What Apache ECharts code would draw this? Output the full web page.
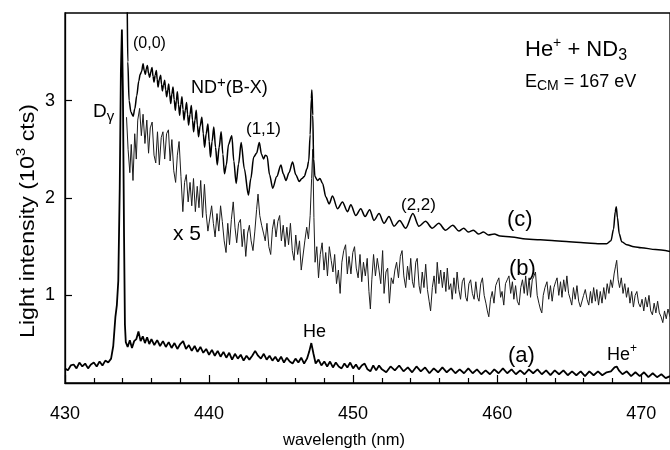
<!DOCTYPE html>
<html><head><meta charset="utf-8">
<script src="https://cdn.jsdelivr.net/npm/echarts@6/dist/echarts.min.js"></script>
<style>html,body{margin:0;padding:0;background:#fff}#c{width:670px;height:450px}</style>
</head><body><div id="c"></div>
<script>
// ---- data (wavelength in nm, intensity in 10^3 cts) ----
const waveA = [
430.0,430.2,430.4,430.6,430.8,431.0,431.2,431.4,431.6,431.8,
432.0,432.2,432.4,432.6,432.8,433.0,433.2,433.35,433.5,433.6,
433.7,433.8,433.88,433.95,434.02,434.1,434.16,434.22,434.35,434.5,
434.65,434.8,434.95,435.1,435.25,435.4,435.55,435.7,435.85,436.0,
436.2,436.4,436.6,436.8,437.0,437.2,437.4,437.6,437.8,438.0,
438.2,438.4,438.6,438.8,439.0,439.2,439.4,439.6,439.8,440.0,
440.2,440.4,440.6,440.8,441.0,441.2,441.4,441.6,441.8,442.0,
442.2,442.4,442.6,442.8,443.0,443.2,443.4,443.6,443.8,444.0,
444.2,444.4,444.6,444.8,445.0,445.2,445.4,445.6,445.8,446.0,
446.2,446.4,446.6,446.8,446.95,447.1,447.25,447.4,447.6,447.8,
448.0,448.2,448.4,448.6,448.8,449.0,449.2,449.4,449.6,449.8,
450.0,450.2,450.4,450.6,450.8,451.0,451.2,451.4,451.6,451.8,
452.0,452.3,452.6,452.9,453.2,453.5,453.8,454.1,454.4,454.7,
455.0,455.3,455.6,455.9,456.2,456.5,456.8,457.1,457.4,457.7,
458.0,458.3,458.6,458.9,459.2,459.5,459.8,460.1,460.4,460.7,
461.0,461.3,461.6,461.9,462.2,462.5,462.8,463.1,463.4,463.7,
464.0,464.3,464.6,464.9,465.2,465.5,465.8,466.1,466.4,466.7,
467.0,467.3,467.6,467.9,468.15,468.3,468.45,468.7,469.0,469.3,
469.6,469.9,470.2,470.5,470.8,471.1,471.4,471.7,472.0];
const intensityA = [
0.25,0.23,0.28,0.29,0.25,0.31,0.27,0.30,0.25,0.29,
0.31,0.27,0.32,0.28,0.33,0.31,0.35,0.48,0.78,0.90,
1.15,2.10,3.30,3.73,3.10,1.60,0.70,0.52,0.47,0.54,
0.46,0.53,0.55,0.63,0.53,0.58,0.51,0.57,0.50,0.55,
0.49,0.54,0.48,0.53,0.47,0.52,0.46,0.51,0.45,0.50,
0.53,0.45,0.49,0.43,0.48,0.42,0.47,0.41,0.45,0.39,
0.44,0.38,0.43,0.37,0.42,0.36,0.41,0.34,0.40,0.35,
0.39,0.33,0.38,0.34,0.38,0.43,0.38,0.35,0.40,0.34,
0.38,0.33,0.37,0.32,0.37,0.31,0.36,0.32,0.30,0.35,
0.31,0.36,0.30,0.35,0.42,0.51,0.40,0.30,0.34,0.28,
0.32,0.27,0.32,0.26,0.31,0.27,0.25,0.30,0.26,0.31,
0.25,0.29,0.24,0.28,0.30,0.24,0.22,0.28,0.23,0.28,
0.24,0.21,0.27,0.23,0.28,0.22,0.26,0.21,0.27,0.22,
0.26,0.20,0.25,0.21,0.26,0.21,0.25,0.20,0.24,0.20,
0.25,0.20,0.24,0.19,0.23,0.19,0.24,0.20,0.25,0.20,
0.24,0.19,0.23,0.19,0.24,0.20,0.24,0.19,0.23,0.18,
0.23,0.19,0.23,0.18,0.22,0.18,0.22,0.17,0.22,0.18,
0.22,0.18,0.21,0.22,0.26,0.27,0.23,0.19,0.22,0.17,
0.21,0.17,0.21,0.16,0.20,0.16,0.19,0.15,0.17];

const waveB = [
434.27,434.38,434.5,434.6,434.72,434.84,434.95,435.05,435.18,435.3,
435.42,435.55,435.68,435.8,435.92,436.05,436.18,436.3,436.42,436.55,
436.68,436.8,436.92,437.05,437.18,437.3,437.42,437.55,437.68,437.8,
437.92,438.05,438.18,438.3,438.42,438.55,438.68,438.8,438.92,439.05,
439.18,439.3,439.42,439.55,439.68,439.8,439.92,440.05,440.18,440.3,
440.42,440.55,440.68,440.8,440.92,441.05,441.18,441.3,441.42,441.55,
441.68,441.8,441.92,442.05,442.18,442.3,442.42,442.55,442.68,442.8,
442.92,443.05,443.18,443.3,443.4,443.52,443.65,443.78,443.9,444.02,
444.15,444.28,444.4,444.52,444.65,444.78,444.9,445.02,445.15,445.28,
445.4,445.52,445.65,445.78,445.9,446.02,446.15,446.28,446.4,446.52,
446.65,446.78,446.9,447.02,447.12,447.2,447.28,447.36,447.48,447.6,
447.72,447.85,447.98,448.1,448.22,448.35,448.48,448.6,448.72,448.85,
448.98,449.1,449.22,449.35,449.48,449.6,449.72,449.85,449.98,450.1,
450.22,450.35,450.48,450.6,450.72,450.85,450.98,451.1,451.2,451.3,
451.42,451.55,451.68,451.8,451.92,452.05,452.15,452.28,452.4,452.52,
452.65,452.78,452.9,453.02,453.15,453.28,453.4,453.52,453.65,453.78,
453.9,454.0,454.12,454.22,454.35,454.45,454.58,454.68,454.8,454.92,
455.04,455.16,455.28,455.38,455.5,455.62,455.74,455.84,455.96,456.08,
456.2,456.32,456.44,456.54,456.66,456.78,456.88,457.0,457.12,457.22,
457.34,457.46,457.58,457.7,457.82,457.92,458.04,458.16,458.28,458.4,
458.52,458.64,458.74,458.86,458.98,459.1,459.22,459.32,459.42,459.54,
459.66,459.78,459.9,460.0,460.12,460.24,460.34,460.46,460.58,460.7,
460.82,460.94,461.06,461.16,461.28,461.4,461.52,461.64,461.76,461.88,
461.98,462.1,462.22,462.32,462.44,462.56,462.66,462.78,462.9,463.0,
463.1,463.2,463.32,463.46,463.58,463.7,463.82,463.94,464.06,464.16,
464.28,464.4,464.5,464.62,464.74,464.84,464.96,465.08,465.18,465.3,
465.42,465.54,465.66,465.78,465.88,466.0,466.12,466.24,466.36,466.48,
466.58,466.7,466.82,466.92,467.04,467.16,467.28,467.4,467.52,467.64,
467.76,467.88,468.0,468.12,468.22,468.3,468.4,468.5,468.62,468.74,
468.86,468.98,469.1,469.22,469.34,469.46,469.58,469.7,469.82,469.94,
470.06,470.18,470.3,470.42,470.54,470.66,470.78,470.9,471.02,471.14,
471.26,471.38,471.5,471.62,471.74,471.86,472.0];
const intensityB = [
2.83,2.50,2.26,2.55,2.18,2.66,2.40,2.80,2.92,2.64,
2.86,2.56,2.80,2.46,2.72,2.78,2.44,2.36,2.68,2.34,
2.62,2.68,2.40,2.66,2.70,2.38,2.60,2.28,2.16,2.44,
2.58,2.22,1.86,2.16,2.24,1.96,2.16,1.92,2.20,1.86,
2.12,1.90,2.18,1.80,2.14,1.84,1.66,1.64,1.92,1.74,
1.60,1.84,1.66,1.92,1.76,1.56,1.44,1.74,1.52,1.78,
1.96,1.70,1.54,1.74,1.78,1.50,1.68,1.40,1.64,1.72,
1.56,1.46,1.66,1.88,2.04,1.82,1.72,1.64,1.56,1.74,
1.50,1.42,1.68,1.78,1.60,1.76,1.82,1.56,1.72,1.50,
1.70,1.52,1.74,1.46,1.36,1.62,1.42,1.56,1.26,1.24,
1.56,1.70,1.58,1.82,2.20,2.50,1.80,1.34,1.50,1.18,
1.42,1.54,1.26,1.44,1.20,1.50,1.36,1.24,1.42,1.12,
1.26,1.02,1.34,1.46,1.52,1.22,1.40,1.22,1.44,1.50,
1.28,1.18,1.42,1.14,1.34,1.20,1.38,1.04,0.86,1.16,
1.42,1.20,1.38,1.26,1.12,1.46,1.02,1.24,1.28,0.92,
1.18,1.12,1.26,1.34,1.18,1.40,1.46,1.20,1.08,1.30,
1.16,1.38,1.14,1.08,1.34,1.38,1.10,1.02,1.24,1.08,
1.32,1.06,0.94,0.84,1.08,1.20,1.02,1.34,1.12,1.26,
1.08,1.24,1.04,1.28,1.06,1.12,0.96,1.18,1.02,1.24,
1.06,0.96,1.14,1.18,0.98,0.94,1.12,1.16,1.02,0.96,
1.14,0.98,0.94,1.12,1.18,1.00,0.92,0.84,0.78,0.96,
1.04,0.92,1.10,1.14,1.18,0.98,1.04,0.90,1.12,1.16,
1.20,1.02,1.14,0.96,1.10,0.94,0.90,1.08,1.16,1.02,
1.20,1.00,1.18,0.98,1.16,1.20,1.24,1.00,0.92,0.86,
0.82,1.00,1.08,1.14,0.96,1.10,0.94,1.08,1.14,1.18,
1.00,1.14,0.98,1.16,1.04,1.20,1.02,0.96,0.90,1.08,
0.96,1.10,0.94,0.88,0.86,1.00,1.06,0.96,0.90,1.04,
0.92,1.08,0.94,1.06,0.90,1.04,0.92,1.08,0.96,1.12,
1.02,1.16,1.08,1.22,1.30,1.36,1.16,1.08,1.18,1.02,
1.12,0.98,1.08,0.92,1.04,0.88,1.00,1.04,0.92,0.88,
0.96,0.84,0.98,0.88,1.00,0.84,0.80,0.92,0.82,0.94,
0.82,0.78,0.72,0.84,0.76,0.86,0.78];

const waveC = [
434.22,434.3,434.36,434.45,434.58,434.73,434.85,434.98,435.12,435.22,
435.32,435.42,435.5,435.58,435.65,435.72,435.8,435.88,435.96,436.04,
436.11,436.18,436.26,436.34,436.4,436.46,436.55,436.64,436.7,436.76,
436.84,436.92,436.99,437.06,437.13,437.2,437.27,437.34,437.42,437.5,
437.58,437.66,437.73,437.8,437.88,437.96,438.04,438.12,438.19,438.26,
438.35,438.44,438.51,438.58,438.68,438.77,438.85,438.93,439.02,439.11,
439.19,439.27,439.38,439.5,439.6,439.69,439.8,439.92,440.01,440.1,
440.21,440.33,440.45,440.57,440.7,440.84,440.96,441.07,441.2,441.35,
441.58,441.72,441.88,442.05,442.23,442.45,442.73,442.9,443.1,443.3,
443.49,443.64,443.79,443.9,444.03,444.2,444.42,444.7,444.99,445.15,
445.34,445.55,445.8,446.02,446.26,446.45,446.61,446.8,446.92,447.02,
447.1,447.14,447.2,447.26,447.35,447.53,447.7,447.88,448.11,448.34,
448.57,448.92,449.26,449.61,449.84,450.19,450.53,450.83,451.15,451.45,
451.8,452.15,452.49,452.84,453.23,453.65,454.15,454.57,455.03,455.49,
455.95,456.41,456.92,457.34,457.68,458.0,458.35,458.7,459.05,459.4,
459.8,460.2,461.0,462.0,463.0,464.0,465.0,466.0,467.0,467.6,
467.9,468.08,468.2,468.27,468.35,468.48,468.65,469.0,469.5,470.0,
471.0,472.0];
const intensityC = [
5.0,4.2,3.4,3.0,2.88,2.84,2.92,3.05,3.20,3.27,
3.30,3.38,3.31,3.27,3.33,3.36,3.28,3.24,3.30,3.34,
3.25,3.19,3.26,3.31,3.22,3.14,3.22,3.26,3.17,3.10,
3.16,3.21,3.11,3.04,3.11,3.17,3.06,2.97,3.07,3.14,
3.01,2.90,3.00,3.09,2.96,2.85,2.96,3.04,2.91,2.80,
2.90,2.98,2.86,2.75,2.86,2.95,2.80,2.68,2.80,2.90,
2.75,2.63,2.74,2.83,2.66,2.52,2.66,2.76,2.58,2.42,
2.58,2.73,2.52,2.34,2.52,2.68,2.45,2.25,2.34,2.55,
2.64,2.38,2.15,2.35,2.57,2.30,2.03,2.20,2.42,2.46,
2.57,2.45,2.40,2.44,2.43,2.24,2.10,2.22,2.34,2.25,
2.18,2.26,2.37,2.24,2.17,2.20,2.22,2.30,2.38,2.65,
3.02,3.11,2.85,2.40,2.22,2.18,2.20,2.15,2.01,1.94,
2.02,1.89,1.96,1.86,1.93,1.82,1.89,1.81,1.88,1.77,
1.84,1.74,1.81,1.71,1.77,1.69,1.84,1.71,1.76,1.69,
1.74,1.67,1.72,1.66,1.69,1.65,1.67,1.63,1.65,1.62,
1.63,1.61,1.60,1.58,1.57,1.56,1.55,1.54,1.53,1.53,
1.56,1.68,1.86,1.91,1.80,1.63,1.55,1.52,1.50,1.49,
1.47,1.45];

const xTickLabels = [430, 440, 450, 460, 470];
const yTickLabels = [1, 2, 3];

// ---- chart ----
function pairs(w, v) {
  const n = Math.min(w.length, v.length), out = [];
  for (let i = 0; i < n; i++) out.push([w[i], v[i]]);
  return out;
}
const FONT = '"Liberation Sans", Arial, Helvetica, sans-serif';
function label(x, y, text, size, rich, extra, align) {
  const r = {};
  if (rich) {
    for (const k in rich) r[k] = Object.assign({ fontFamily: FONT, fill: '#000' }, rich[k]);
  }
  return Object.assign({
    type: 'text', x: x, y: y, silent: true, z: 100,
    style: { text: text, fill: '#000', font: size + 'px ' + FONT, fontSize: size, fontFamily: FONT,
             align: align || 'left', verticalAlign: 'middle', rich: rich ? r : undefined }
  }, extra || {});
}

const chart = echarts.init(document.getElementById('c'), null, { renderer: 'canvas' });
chart.setOption({
  animation: false,
  backgroundColor: '#fff',
  grid: { left: 65, top: 13, width: 607, height: 370, show: true, borderColor: '#000', borderWidth: 1.3 },
  xAxis: {
    type: 'value', min: 430, max: 472, interval: 10,
    axisLine: { lineStyle: { color: '#000', width: 1.3 } },
    axisTick: { inside: true, length: 8, lineStyle: { color: '#000', width: 1.2 } },
    minorTick: { show: true, splitNumber: 5, length: 5, lineStyle: { color: '#000', width: 1.2 } },
    splitLine: { show: false },
    axisLabel: { color: '#000', fontSize: 18, fontFamily: FONT, margin: 22, customValues: xTickLabels }
  },
  yAxis: {
    type: 'value', min: 0.1, max: 3.9,
    axisLine: { show: true, lineStyle: { color: '#000', width: 1.3 } },
    axisTick: { show: true, inside: true, length: 7, customValues: yTickLabels, lineStyle: { color: '#000', width: 1.2 } },
    axisLabel: { color: '#000', fontSize: 18, fontFamily: FONT, margin: 10, customValues: yTickLabels },
    splitLine: { show: false }
  },
  series: [
    { name: '(b)', type: 'line', data: pairs(waveB, intensityB), symbol: 'none', clip: true,
      lineStyle: { color: '#1c1c1c', width: 1.0 }, z: 2 },
    { name: '(c)', type: 'line', data: pairs(waveC, intensityC), symbol: 'none', clip: true,
      smooth: 0.3, smoothMonotone: 'x', lineStyle: { color: '#000', width: 1.5 }, z: 3 },
    { name: '(a)', type: 'line', data: pairs(waveA, intensityA), symbol: 'none', clip: true,
      lineStyle: { color: '#000', width: 1.8 }, z: 4 }
  ],
  graphic: [
    // axis titles
    {
      type: 'text', x: 28, y: 221, rotation: Math.PI / 2, scaleX: 1.16, silent: true, z: 100,
      style: {
        text: '{n|Light intensity (10}{s|3}{n| cts)}', fill: '#000', align: 'center', verticalAlign: 'middle',
        font: '20px ' + FONT,
        rich: {
          n: { fontSize: 20, lineHeight: 26, fontFamily: FONT, fill: '#000' },
          s: { fontSize: 13, lineHeight: 13, verticalAlign: 'top', fontFamily: FONT, fill: '#000' }
        }
      }
    },
    label(344, 440, 'wavelength (nm)', 16.5, null, null, 'center'),
    label(133, 44, '(0,0)', 16),
    label(93, 112, '{n|D}{b|γ}', 19, { n: { fontSize: 19, lineHeight: 24 }, b: { fontSize: 15, lineHeight: 15, verticalAlign: 'bottom' } }),
    label(191, 88, '{n|ND}{s|+}{n|(B-X)}', 18, { n: { fontSize: 18, lineHeight: 25 }, s: { fontSize: 15, lineHeight: 15, verticalAlign: 'top' } }),
    label(246, 129, '(1,1)', 17),
    label(401, 205, '(2,2)', 17),
    label(507, 220, '(c)', 22),
    label(509, 269, '(b)', 22),
    label(508, 356, '(a)', 22),
    label(303, 332, 'He', 18),
    label(607, 355, '{n|He}{s|+}', 18, { n: { fontSize: 18, lineHeight: 24 }, s: { fontSize: 12, lineHeight: 12, verticalAlign: 'top' } }),
    label(173, 234, 'x 5', 21),
    label(525, 50, '{n|He}{s|+}{n| + ND}{b|3}', 22, { n: { fontSize: 22, lineHeight: 27 }, s: { fontSize: 14, lineHeight: 14, verticalAlign: 'top' }, b: { fontSize: 16, lineHeight: 16, verticalAlign: 'bottom' } }),
    label(525, 82, '{n|E}{b|CM}{n| = 167 eV}', 18, { n: { fontSize: 18, lineHeight: 23 }, b: { fontSize: 14, lineHeight: 14, verticalAlign: 'bottom' } })
  ]
});
</script>
</body></html>
